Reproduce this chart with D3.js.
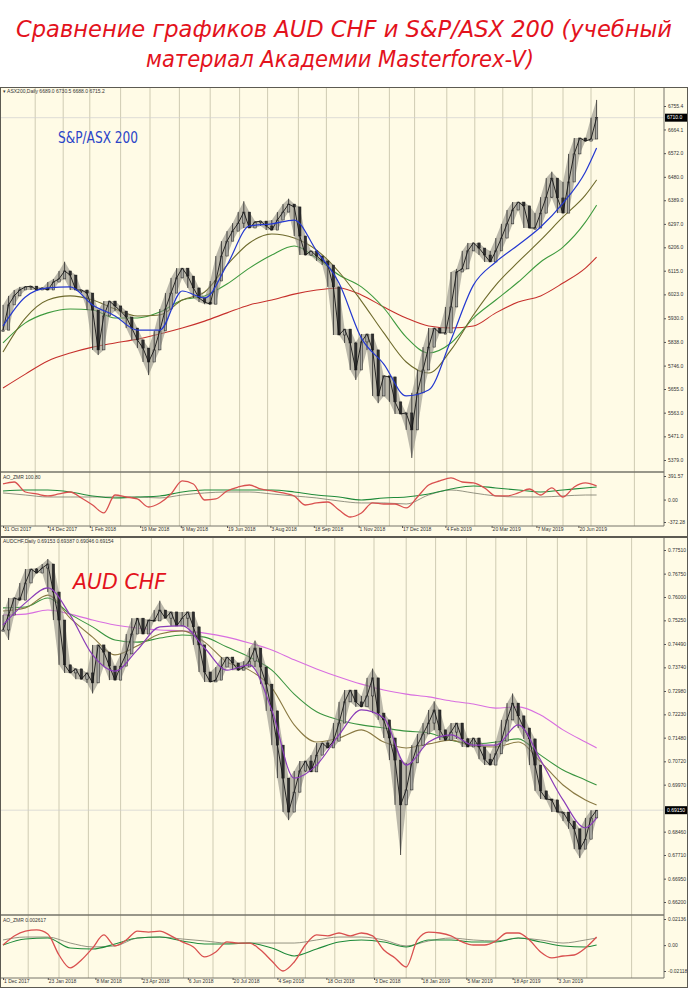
<!DOCTYPE html>
<html><head><meta charset="utf-8">
<script src="https://cdn.jsdelivr.net/npm/d3@7"></script>
<style>body{margin:0;background:#fff}svg{display:block}</style>
</head><body>
<script>
// ---------------- DATA ----------------
// price closes sampled every 4th session (bar index = 4*k)
const asxClose = [
5884,5982,6017,6040,6052,6055,6040,6048,6040,6071,
6083,6114,6098,6040,6040,6028,5962,5807,5939,5997,
5978,5958,5935,5892,5846,5814,5760,5807,5881,5966,
6028,6087,6125,6094,6048,6009,5993,5985,6075,6172,
6230,6269,6300,6343,6281,6304,6308,6289,6273,6312,
6343,6374,6363,6250,6176,6192,6172,6153,6137,6052,
5865,5888,5834,5729,5838,5869,5807,5628,5706,5702,
5605,5558,5562,5496,5640,5729,5818,5892,5873,5873,
5974,6110,6122,6192,6223,6203,6176,6149,6192,6242,
6297,6351,6382,6367,6281,6281,6339,6401,6475,6398,
6339,6460,6569,6631,6619,6627,6710];
// notable wick extremes: [sample index, price]
const asxWickLows  = [[17, 5787], [26, 5709], [63, 5690], [67, 5600], [73, 5387]];
const asxWickHighs = [[11, 6150], [43, 6385], [51, 6395], [98, 6500], [106, 6779]];
// moving averages sampled at these bar indices
const maBars = [0,16,32,48,64,80,96,112,128,144,160,176,192,208,224,240,256,272,288,304,320,336,352,368,384,400,416,424];
const asxMA20  = [5900,6013,6048,6052,5982,5939,5884,5884,6036,6009,6137,6289,6297,6312,6192,6067,5853,5752,5628,5651,5846,6059,6149,6215,6285,6378,6499,6592];
const asxMA50  = [5799,5931,6001,6017,6001,5966,5939,5943,6001,6032,6137,6223,6258,6242,6195,6110,5997,5873,5760,5717,5807,5943,6059,6149,6234,6324,6409,6468];
const asxMA100 = [5834,5912,5951,5966,5962,5931,5931,5954,6001,6017,6063,6125,6176,6211,6164,6098,6052,5970,5857,5795,5834,5931,6001,6071,6149,6207,6304,6370];
const asxMA200 = [5659,5713,5764,5795,5818,5834,5849,5869,5892,5919,5951,5982,6001,6024,6040,6048,6021,5974,5931,5900,5892,5900,5951,5993,6017,6067,6125,6168];
// oscillator sampled every 8th session
const asxAO = [259,292,126,93,60,93,126,27,-90,-222,76,43,10,-123,-56,93,309,259,-7,10,
143,209,242,176,143,110,60,-90,-56,-40,-173,-289,-222,-56,-73,-73,-139,43,242,309,
359,292,276,193,60,60,110,176,76,193,43,209,276,226];
const asxSig  = [143,159,159,126,60,27,43,60,126,159,159,159,159,126,76,43,-7,27,43,93,176,226,193,159,126,159,193,209];
const asxSig2 = [110,76,43,43,43,43,43,27,76,110,126,126,93,60,27,-23,-56,-56,-73,76,159,110,60,43,43,60,76,76];

const audClose = [
0.7494,0.7542,0.7597,0.7590,0.7645,0.7690,0.7677,0.7693,0.7706,0.7616,
0.7526,0.7382,0.7356,0.7369,0.7336,0.7356,0.7324,0.7446,0.7423,0.7378,
0.7333,0.7378,0.7417,0.7481,0.7532,0.7481,0.7526,0.7523,0.7558,0.7532,
0.7552,0.7507,0.7532,0.7552,0.7504,0.7446,0.7359,0.7327,0.7333,0.7375,
0.7407,0.7388,0.7365,0.7375,0.7394,0.7436,0.7375,0.7320,0.7234,0.7124,
0.7018,0.6909,0.6973,0.7041,0.7073,0.7038,0.7092,0.7131,0.7115,0.7137,
0.7195,0.7263,0.7301,0.7263,0.7247,0.7282,0.7340,0.7227,0.7205,0.7147,
0.7076,0.6932,0.6980,0.7067,0.7124,0.7160,0.7195,0.7237,0.7173,0.7140,
0.7166,0.7195,0.7144,0.7118,0.7147,0.7118,0.7079,0.7060,0.7096,0.7137,
0.7205,0.7259,0.7218,0.7179,0.7144,0.7060,0.6977,0.6951,0.6948,0.6909,
0.6909,0.6880,0.6855,0.6790,0.6822,0.6890,0.6915];
const audWickLows  = [[1, 0.7462], [16, 0.7290], [51, 0.6883], [71, 0.6771], [103, 0.6761]];
const audWickHighs = [[8, 0.7722], [28, 0.7588], [45, 0.7460], [66, 0.7370], [77, 0.7265], [91, 0.7290]];
const audMA20  = [0.7510,0.7581,0.7629,0.7542,0.7414,0.7362,0.7430,0.7504,0.7507,0.7436,0.7365,0.7382,0.7237,0.7018,0.7060,0.7157,0.7237,0.7211,0.7060,0.7134,0.7157,0.7124,0.7124,0.7189,0.7076,0.6948,0.6858,0.6890];
const audMA50  = [0.7555,0.7565,0.7606,0.7532,0.7471,0.7414,0.7443,0.7481,0.7491,0.7455,0.7391,0.7365,0.7308,0.7189,0.7134,0.7147,0.7173,0.7134,0.7115,0.7128,0.7140,0.7121,0.7118,0.7134,0.7070,0.6996,0.6948,0.6932];
const audMA100 = [0.7565,0.7568,0.7597,0.7545,0.7504,0.7462,0.7455,0.7468,0.7478,0.7471,0.7439,0.7407,0.7365,0.7288,0.7231,0.7205,0.7189,0.7179,0.7169,0.7163,0.7140,0.7128,0.7134,0.7144,0.7092,0.7044,0.7012,0.6996];
const audMA200 = [0.7542,0.7545,0.7558,0.7545,0.7526,0.7510,0.7500,0.7494,0.7491,0.7484,0.7471,0.7452,0.7430,0.7398,0.7369,0.7343,0.7320,0.7301,0.7288,0.7279,0.7266,0.7256,0.7243,0.7247,0.7221,0.7173,0.7134,0.7115];
const audAO = [0.0001,0.0075,0.0115,0.0124,0.0091,-0.0081,-0.0187,-0.0122,-0.0024,0.0083,
-0.0007,0.0042,0.0115,0.0107,0.0115,0.0075,0.0026,-0.0015,-0.0097,-0.0056,
0.0026,0.0017,0.0017,-0.0040,-0.0130,-0.0212,-0.0138,0.0001,0.0083,0.0075,
0.0099,0.0075,0.0099,0.0075,-0.0040,-0.0105,-0.0179,0.0042,0.0107,0.0099,
0.0075,0.0026,0.0001,0.0001,0.0034,0.0099,0.0099,0.0042,-0.0056,-0.0105,
-0.0089,-0.0081,-0.0024,0.0066];
const audSig  = [0.0001,0.0050,0.0058,-0.0024,-0.0032,0.0009,0.0058,0.0066,0.0034,0.0009,0.0009,0.0017,-0.0024,-0.0089,-0.0032,0.0026,0.0042,0.0026,-0.0015,0.0042,0.0042,0.0026,0.0026,0.0058,0.0026,-0.0007,-0.0015,0.0001];
const audSig2 = [0.0042,0.0066,0.0066,0.0017,-0.0015,-0.0007,0.0058,0.0066,0.0050,0.0034,0.0017,0.0017,0.0017,0.0017,0.0042,0.0066,0.0066,0.0042,-0.0007,0.0034,0.0058,0.0042,0.0034,0.0058,0.0042,0.0017,0.0042,0.0058];

// axis labels
const asxTicks = [5379.0,5471.0,5563.0,5655.0,5746.0,5838.0,5930.0,6023.0,6115.0,6206.0,6297.0,6389.0,6480.0,6572.0,6664.1,6755.4];
const audTicks = [0.66200,0.66950,0.67710,0.68460,0.69970,0.70720,0.71480,0.72230,0.72980,0.73740,0.74490,0.75250,0.76000,0.76750,0.77510];
const asxDates = ["31 Oct 2017","14 Dec 2017","1 Feb 2018","19 Mar 2018","9 May 2018","19 Jun 2018","3 Aug 2018","18 Sep 2018","1 Nov 2018","17 Dec 2018","4 Feb 2019","20 Mar 2019","7 May 2019","20 Jun 2019"];
const asxDateBars = [0,32,62,98,127,160,191,222,254,285,316,349,381,411];
const audDates = ["1 Dec 2017","23 Jan 2018","8 Mar 2018","23 Apr 2018","6 Jun 2018","20 Jul 2018","4 Sep 2018","18 Oct 2018","3 Dec 2018","18 Jan 2019","5 Mar 2019","18 Apr 2019","3 Jun 2019"];
const audDateBars = [0,32,66,99,132,164,196,231,265,299,331,364,396];
const asxGridBars = [23,43,62,84,105,126,148,169,189,211,231,254,276,294,317,337,357,378,400,420,451];
const audGridBars = [18,40,61,84,106,129,150,173,194,216,237,265,288,309,331,352,374,396,417,449];

// ---------------- DRAW ----------------
const W = 688, H = 988, AX = 664;
const BG = "#fffbe6";
const SMALL = "Liberation Sans, Arial, sans-serif";
const svg = d3.select("body").append("svg").attr("width", W).attr("height", H);

svg.append("rect").attr("width", W).attr("height", H).attr("fill", "#fff");

// title
const title = svg.append("g").attr("font-family", "DejaVu Sans, sans-serif")
  .attr("font-style", "italic").attr("fill", "#e3121c").attr("font-size", 23).attr("text-anchor", "middle");
title.append("text").attr("x", 344).attr("y", 37).attr("textLength", 656).attr("lengthAdjust", "spacingAndGlyphs")
  .text("Сравнение графиков AUD CHF и S&P/ASX 200 (учебный");
title.append("text").attr("x", 340).attr("y", 67).attr("textLength", 388).attr("lengthAdjust", "spacingAndGlyphs")
  .text("материал Академии Masterforex-V)");

const x = d3.scaleLinear().domain([0, 472.14]).range([3, AX]);

let clipId = 0;
function drawPanel(c) {
  const g = svg.append("g");
  g.append("rect").attr("x", 0).attr("y", c.top).attr("width", W).attr("height", c.bottom - c.top).attr("fill", BG);

  const y = d3.scaleLinear().domain(c.yDomain).range(c.yRange);
  const yo = d3.scaleLinear().domain(c.oDomain).range(c.oRange);

  // vertical grid
  g.append("g").selectAll("line").data(c.grid).join("line")
    .attr("x1", d => x(d)).attr("x2", d => x(d))
    .attr("y1", c.top).attr("y2", c.oscBottom)
    .attr("stroke", "#c9c5ad").attr("stroke-width", 0.9);

  // clips
  const cm = "clip" + (clipId++), co = "clip" + (clipId++);
  svg.append("clipPath").attr("id", cm).append("rect").attr("x", 0).attr("y", c.top + 1).attr("width", AX).attr("height", c.mainBottom - c.top - 1);
  svg.append("clipPath").attr("id", co).append("rect").attr("x", 0).attr("y", c.mainBottom + 1).attr("width", AX).attr("height", c.oscBottom - c.mainBottom - 1);

  const main = g.append("g").attr("clip-path", `url(#${cm})`);
  const cl = c.close, n = cl.length;
  const last = cl[n - 1];
  main.append("line").attr("x1", 0).attr("x2", AX).attr("y1", y(last)).attr("y2", y(last))
    .attr("stroke", "#d0d0d0").attr("stroke-width", 0.7);

  // moving averages (slow first)
  const maLine = d3.line().x((d, i) => x(maBars[i])).y(d => y(d)).curve(d3.curveMonotoneX);
  c.mas.forEach(m => main.append("path").attr("d", maLine(m.data)).attr("fill", "none")
    .attr("stroke", m.color).attr("stroke-width", 1.1));

  // price band: range of neighbouring sampled closes, widened by the read wick extremes
  const lo = cl.map((d, k) => Math.min(d, cl[Math.max(0, k - 1)], cl[Math.min(n - 1, k + 1)]));
  const hi = cl.map((d, k) => Math.max(d, cl[Math.max(0, k - 1)], cl[Math.min(n - 1, k + 1)]));
  c.wickLows.forEach(([k, v]) => { lo[k] = Math.min(lo[k], v); });
  c.wickHighs.forEach(([k, v]) => { hi[k] = Math.max(hi[k], v); });
  main.append("path").attr("d", d3.area().x((d, k) => x(4 * k)).y0((d, k) => y(lo[k])).y1((d, k) => y(hi[k]))(cl))
    .attr("fill", "#8f8d84").attr("opacity", 0.6);
  // wicks
  main.append("g").selectAll("line").data(cl).join("line")
    .attr("x1", (d, k) => x(4 * k)).attr("x2", (d, k) => x(4 * k))
    .attr("y1", (d, k) => y(hi[k])).attr("y2", (d, k) => y(lo[k]))
    .attr("stroke", "#222").attr("stroke-width", 0.8);
  // bodies: from previous sampled close to current close
  const cw = 2.4;
  main.append("g").selectAll("rect").data(cl).join("rect")
    .attr("x", (d, k) => x(4 * k) - cw / 2)
    .attr("width", cw)
    .attr("y", (d, k) => y(Math.max(d, k ? cl[k - 1] : d)))
    .attr("height", (d, k) => Math.max(1.2, Math.abs(y(d) - y(k ? cl[k - 1] : d))))
    .attr("fill", (d, k) => (k && d < cl[k - 1]) ? "#2e2e2e" : "#a9a9a3")
    .attr("stroke", "#1c1c1c").attr("stroke-width", 0.5);
  main.append("path").attr("d", d3.line().x((d, k) => x(4 * k)).y(d => y(d))(cl))
    .attr("fill", "none").attr("stroke", "#151515").attr("stroke-width", 0.9);
  // fast MA drawn on top
  if (c.fast) main.append("path").attr("d", maLine(c.fast.data)).attr("fill", "none")
    .attr("stroke", c.fast.color).attr("stroke-width", 1.2);

  // oscillator
  const osc = g.append("g").attr("clip-path", `url(#${co})`);
  const sigLine = d3.line().x((d, i) => x(maBars[i])).y(d => yo(d)).curve(d3.curveMonotoneX);
  osc.append("path").attr("d", sigLine(c.sig2)).attr("fill", "none").attr("stroke", "#7a7a6a").attr("stroke-width", 0.8);
  osc.append("path").attr("d", sigLine(c.sig)).attr("fill", "none").attr("stroke", "#1f8a3a").attr("stroke-width", 1.1);
  osc.append("path").attr("d", d3.line().x((d, j) => x(8 * j)).y(d => yo(d)).curve(d3.curveMonotoneX)(c.ao))
    .attr("fill", "none").attr("stroke", "#d9504f").attr("stroke-width", 1.3);

  // frame / separators
  g.append("line").attr("x1", 0).attr("x2", AX).attr("y1", c.mainBottom).attr("y2", c.mainBottom).attr("stroke", "#76746a").attr("stroke-width", 1.6);
  g.append("line").attr("x1", 0).attr("x2", AX).attr("y1", c.oscBottom).attr("y2", c.oscBottom).attr("stroke", "#76746a").attr("stroke-width", 1);
  g.append("line").attr("x1", AX).attr("x2", AX).attr("y1", c.top).attr("y2", c.oscBottom).attr("stroke", "#76746a").attr("stroke-width", 1);
  g.append("rect").attr("x", 0.5).attr("y", c.top + 0.5).attr("width", W - 1).attr("height", c.bottom - c.top - 1)
    .attr("fill", "none").attr("stroke", "#5c5a52").attr("stroke-width", 1);

  // price axis
  const ya = g.append("g").attr("transform", `translate(${AX},0)`)
    .call(d3.axisRight(y).tickValues(c.ticks).tickSize(2).tickFormat(c.fmt));
  ya.select(".domain").remove();
  ya.selectAll("text").attr("font-size", 5).attr("font-family", SMALL).attr("fill", "#333").attr("dx", -1);
  ya.selectAll("line").attr("stroke", "#555");
  // current price box
  g.append("rect").attr("x", AX + 1).attr("y", y(last) - 4).attr("width", 22).attr("height", 8).attr("fill", "#000");
  g.append("text").attr("x", AX + 3).attr("y", y(last) + 1.8).attr("font-size", 5).attr("font-family", SMALL)
    .attr("fill", "#fff").text(c.fmt(last));

  // osc axis
  const oa = g.append("g").attr("transform", `translate(${AX},0)`)
    .call(d3.axisRight(yo).tickValues(c.oTicks).tickSize(2).tickFormat((d, i) => c.oLabels[i]));
  oa.select(".domain").remove();
  oa.selectAll("text").attr("font-size", 5).attr("font-family", SMALL).attr("fill", "#333").attr("dx", -1);
  oa.selectAll("line").attr("stroke", "#555");

  // date axis
  const da = g.append("g").attr("transform", `translate(0,${c.oscBottom})`)
    .call(d3.axisBottom(x).tickValues(c.dateBars).tickSize(2).tickFormat((d, i) => c.dates[i]));
  da.select(".domain").remove();
  da.selectAll("text").attr("font-size", 5).attr("font-family", SMALL).attr("fill", "#333")
    .attr("text-anchor", "start").attr("dx", 0.5).attr("dy", -0.3);
  da.selectAll("line").attr("stroke", "#555");

  // headers
  g.append("text").attr("x", 3).attr("y", c.top + 6).attr("font-size", 5).attr("font-family", SMALL).attr("fill", "#333").text(c.header);
  g.append("text").attr("x", 3).attr("y", c.mainBottom + 7).attr("font-size", 5).attr("font-family", SMALL).attr("fill", "#333").text(c.oscHeader);
  return g;
}

drawPanel({
  top: 87, mainBottom: 472, oscBottom: 526, bottom: 537,
  yDomain: [5379, 6755.4], yRange: [460, 106],
  oDomain: [-372.28, 391.57], oRange: [522, 476],
  close: asxClose, wickLows: asxWickLows, wickHighs: asxWickHighs,
  mas: [{data: asxMA200, color: "#c6302c"}, {data: asxMA100, color: "#3e9a3e"}, {data: asxMA50, color: "#6e6a2c"}],
  fast: {data: asxMA20, color: "#2438d0"},
  ao: asxAO, sig: asxSig, sig2: asxSig2,
  ticks: asxTicks, fmt: d => d.toFixed(1),
  oTicks: [391.57, 0, -372.28], oLabels: ["391.57", "0.00", "-372.28"],
  dates: asxDates, dateBars: asxDateBars, grid: asxGridBars,
  header: "\u25BE ASX200,Daily  6689.0 6730.5 6688.0 6715.2",
  oscHeader: "AO_ZMR 100.80"
});

drawPanel({
  top: 537, mainBottom: 915, oscBottom: 978, bottom: 988,
  yDomain: [0.662, 0.7751], yRange: [902, 550],
  oDomain: [-0.02118, 0.02136], oRange: [971, 919],
  close: audClose, wickLows: audWickLows, wickHighs: audWickHighs,
  mas: [{data: audMA200, color: "#d86ee0"}, {data: audMA100, color: "#3a9440"}, {data: audMA50, color: "#8a7a44"}],
  fast: {data: audMA20, color: "#8a3cb8"},
  ao: audAO, sig: audSig, sig2: audSig2,
  ticks: audTicks, fmt: d => d.toFixed(5),
  oTicks: [0.02136, 0, -0.02118], oLabels: ["0.02136", "0.00", "-0.02118"],
  dates: audDates, dateBars: audDateBars, grid: audGridBars,
  header: "AUDCHF,Daily  0.69153 0.69387 0.69046 0.69154",
  oscHeader: "AO_ZMR 0.002617"
});

// chart labels
svg.append("text").attr("x", 58).attr("y", 143).attr("font-family", "DejaVu Sans, sans-serif").attr("font-size", 16)
  .attr("fill", "#2a44c8").attr("textLength", 80).attr("lengthAdjust", "spacingAndGlyphs").text("S&P/ASX 200");
svg.append("text").attr("x", 73).attr("y", 589).attr("font-family", "DejaVu Sans, sans-serif").attr("font-size", 22)
  .attr("font-style", "italic").attr("fill", "#e3121c").attr("textLength", 93).attr("lengthAdjust", "spacingAndGlyphs").text("AUD CHF");
</script>
</body></html>
